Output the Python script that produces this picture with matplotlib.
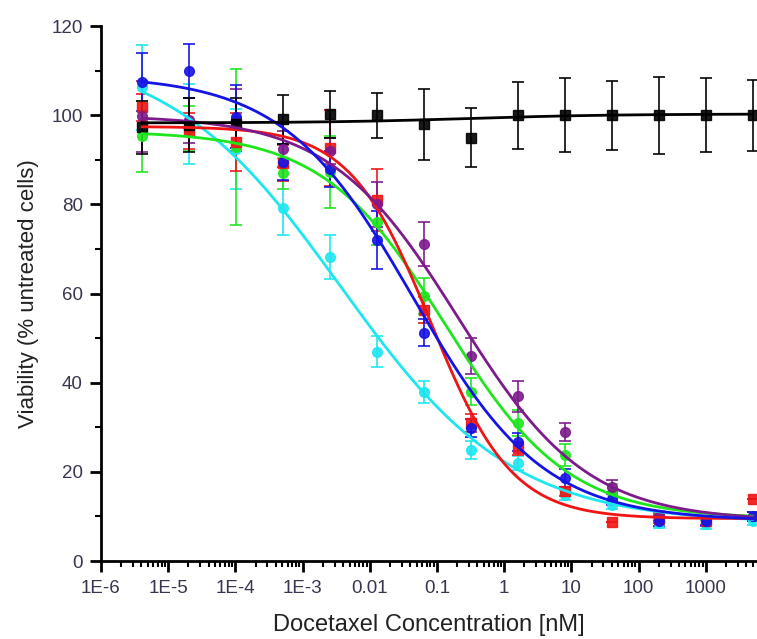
import numpy as np
import matplotlib
matplotlib.use("Agg")
import matplotlib.pyplot as plt
from matplotlib.ticker import FixedLocator, FixedFormatter, LogLocator, NullFormatter

plt.rcParams['font.family'] = ['Liberation Sans', 'DejaVu Sans']

# concentrations (nM), 5-fold dilutions
conc = [4.096e-6, 2.048e-5, 1.024e-4, 5.12e-4, 2.56e-3, 0.0128, 0.064, 0.32,
        1.6, 8.0, 40.0, 200.0, 1000.0, 5000.0]

black_y = [97.3, 97.8, 98.0, 99.1, 100.2, 100.0, 98.0, 95.0, 100.0, 100.0, 100.0, 100.0, 100.0, 100.0]
black_e = [6.0, 6.0, 6.0, 5.5, 5.2, 5.0, 8.0, 6.7, 7.5, 8.3, 7.8, 8.7, 8.3, 8.0]

blue_y = [107.5, 110.0, 99.7, 89.5, 88.0, 72.0, 51.2, 29.8, 26.8, 18.7, 14.0, 9.0, 9.0, 10.0]
blue_e = [6.5, 6.0, 7.0, 4.0, 4.0, 6.5, 3.0, 2.0, 2.0, 2.0, 1.5, 1.2, 1.2, 1.0]

cyan_y = [106.3, 98.0, 92.5, 79.2, 68.2, 47.0, 38.0, 25.0, 22.0, 14.8, 12.6, 8.5, 8.3, 9.0]
cyan_e = [9.5, 9.0, 9.0, 6.0, 5.0, 3.5, 2.5, 2.0, 1.5, 1.2, 1.0, 1.0, 1.0, 1.0]

green_y = [95.3, 97.0, 93.0, 87.0, 87.3, 76.0, 59.5, 38.0, 31.0, 23.8, 15.2, 10.3, 9.0, 10.0]
green_e = [8.0, 5.0, 17.5, 3.5, 8.0, 5.0, 4.0, 3.0, 3.0, 2.5, 2.0, 1.0, 1.0, 1.0]

red_y = [101.8, 96.5, 94.0, 89.3, 92.6, 81.0, 56.3, 31.0, 25.3, 15.7, 8.8, 9.5, 9.0, 14.0]
red_e = [3.0, 4.0, 6.5, 4.0, 8.5, 7.0, 3.0, 2.0, 1.5, 1.0, 0.0, 1.0, 1.0, 0.0]

purple_y = [99.8, 98.9, 99.0, 92.4, 92.0, 80.0, 71.1, 46.0, 37.0, 29.0, 16.6, 10.0, 9.0, 10.0]
purple_e = [8.0, 5.0, 7.0, 4.0, 3.0, 5.0, 5.0, 4.0, 3.5, 2.0, 1.5, 1.0, 1.0, 1.0]

# fitted 4-parameter logistic parameters: top, bottom, logIC50, hill
fits = {
    'black':  (98.3, 100.3, -0.5, 0.4),
    'blue':   (109.0, 9.0, -1.35, 0.45),
    'cyan':   (115.0, 8.5, -2.44, 0.339),
    'green':  (96.5, 9.5, -0.873, 0.476),
    'red':    (97.5, 9.5, -1.09, 0.72),
    'purple': (100.0, 9.0, -0.68, 0.454),
}

colors = {
    'black': '#000000', 'blue': '#1414e6', 'cyan': '#1ee6f0',
    'green': '#1ee61e', 'red': '#f01414', 'purple': '#7d1a8c',
}
series = [
    ('cyan', cyan_y, cyan_e, 'o'),
    ('green', green_y, green_e, 'o'),
    ('red', red_y, red_e, 's'),
    ('purple', purple_y, purple_e, 'o'),
    ('blue', blue_y, blue_e, 'o'),
    ('black', black_y, black_e, 's'),
]

def logistic(x, top, bottom, logic50, hill):
    return bottom + (top - bottom) / (1.0 + 10 ** ((np.log10(x) - logic50) * hill))

fig = plt.figure(figsize=(7.57, 6.39), dpi=100)
ax = fig.add_axes([0.1334, 0.122, 0.8666, 0.837])

xs = np.logspace(np.log10(conc[0]), np.log10(conc[-1]), 400)
for name, y, e, m in series:
    c = colors[name]
    ax.errorbar(conc, y, yerr=e, fmt=m, color=c, ecolor=c, markersize=7,
                capsize=4.5, elinewidth=1.3, capthick=1.3, alpha=0.9, zorder=3)
    ax.plot(xs, logistic(xs, *fits[name]), color=c, lw=2.0, zorder=4)

ax.set_xscale('log')
ax.set_xlim(1e-6, 5800)
ax.set_ylim(0, 120)

ax.spines['top'].set_visible(False)
ax.spines['right'].set_visible(False)
for s in ('left', 'bottom'):
    ax.spines[s].set_linewidth(2.0)
    ax.spines[s].set_color('black')

ax.yaxis.set_major_locator(FixedLocator([0, 20, 40, 60, 80, 100, 120]))
ax.yaxis.set_minor_locator(FixedLocator([10, 30, 50, 70, 90, 110]))

xticks = [1e-6, 1e-5, 1e-4, 1e-3, 1e-2, 1e-1, 1, 10, 100, 1000]
xlabels = ['1E-6', '1E-5', '1E-4', '1E-3', '0.01', '0.1', '1', '10', '100', '1000']
ax.xaxis.set_major_locator(FixedLocator(xticks))
ax.xaxis.set_major_formatter(FixedFormatter(xlabels))
ax.xaxis.set_minor_locator(LogLocator(base=10, subs=np.arange(2, 10), numticks=30))
ax.xaxis.set_minor_formatter(NullFormatter())

lab_col = '#3a3450'
ax.tick_params(axis='both', which='major', direction='out', length=8, width=2,
               colors='black', labelcolor=lab_col, labelsize=13.5)
ax.tick_params(axis='x', which='major', pad=6)
ax.tick_params(axis='y', which='major', pad=5)
ax.tick_params(axis='both', which='minor', direction='out', length=4, width=1.5,
               colors='black')

ax.set_ylabel('Viability (% untreated cells)', fontsize=16, color='#222222', labelpad=9)
ax.set_xlabel('Docetaxel Concentration [nM]', fontsize=17, color='#222222', labelpad=12)

fig.savefig('out.png', dpi=100)
